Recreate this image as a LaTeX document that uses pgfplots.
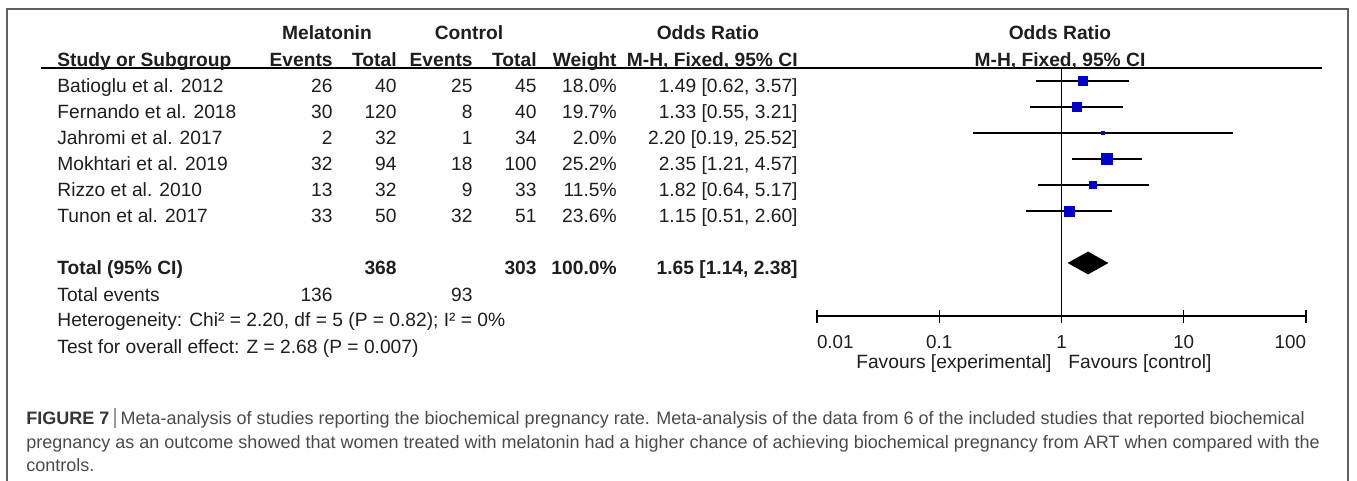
\documentclass[border=0pt]{standalone}
\usepackage{pgfplots}
\pgfplotsset{compat=1.18}
\usepackage{fontspec}
\setmainfont{Liberation Sans}
\definecolor{tx}{HTML}{1E1E1E}
\definecolor{mk}{HTML}{0000C8}
\definecolor{framec}{HTML}{606060}
\definecolor{capc}{HTML}{4A4A4A}
\definecolor{barc}{HTML}{9A9A9A}
\newcommand\tfont{\fontsize{9.6}{11}\selectfont}
\newcommand\row[8]{%
  \node[anchor=base west] at (57,#1) {#2};
  \node[anchor=base east] at (333,#1) {#3};
  \node[anchor=base east] at (397,#1) {#4};
  \node[anchor=base east] at (473,#1) {#5};
  \node[anchor=base east] at (537,#1) {#6};
  \node[anchor=base east] at (617,#1) {#7};
  \node[anchor=base east] at (798,#1) {#8};}
\begin{document}
\begin{tikzpicture}
\useasboundingbox (0,0) rectangle (678.5pt,-240.5pt);
\begin{scope}[x=0.5pt,y=-0.5pt]
\draw[framec, line width=0.6pt] (7,481) -- (7,9) -- (1348,9) -- (1348,481);
\draw[black, line width=0.75pt] (41,68) -- (1322,68);
\begin{scope}[every node/.style={inner sep=0pt, text=tx, font=\tfont}]
% header row 1
\node[anchor=base, font=\tfont\bfseries] at (327,40) {Melatonin};
\node[anchor=base, font=\tfont\bfseries] at (469,40) {Control};
\node[anchor=base, font=\tfont\bfseries] at (708,40) {Odds Ratio};
\node[anchor=base, font=\tfont\bfseries] at (1060,40) {Odds Ratio};
% header row 2
\begin{scope}[every node/.append style={font=\tfont\bfseries}]
\row{67}{Study or Subgroup}{Events}{Total}{Events}{Total}{Weight}{M-H, Fixed, 95\% CI}
\node[anchor=base] at (1060,67) {M-H, Fixed, 95\% CI};
\end{scope}
% studies
\row{93}{Batioglu et al. 2012}{26}{40}{25}{45}{18.0\%}{1.49 [0.62, 3.57]}
\row{119}{Fernando et al. 2018}{30}{120}{8}{40}{19.7\%}{1.33 [0.55, 3.21]}
\row{145}{Jahromi et al. 2017}{2}{32}{1}{34}{2.0\%}{2.20 [0.19, 25.52]}
\row{171}{Mokhtari et al. 2019}{32}{94}{18}{100}{25.2\%}{2.35 [1.21, 4.57]}
\row{197}{Rizzo et al. 2010}{13}{32}{9}{33}{11.5\%}{1.82 [0.64, 5.17]}
\row{223}{Tunon et al. 2017}{33}{50}{32}{51}{23.6\%}{1.15 [0.51, 2.60]}
\begin{scope}[every node/.append style={font=\tfont\bfseries}]
\row{275}{Total (95\% CI)}{}{368}{}{303}{100.0\%}{1.65 [1.14, 2.38]}
\end{scope}
\row{301}{Total events}{136}{}{93}{}{}{}
\node[anchor=base west] at (57,327) {Heterogeneity: Chi² = 2.20, df = 5 (P = 0.82); I² = 0\%};
\node[anchor=base west] at (57,353) {Test for overall effect: Z = 2.68 (P = 0.007)};
% favours
\node[anchor=base east] at (1052,369) {Favours [experimental]};
\node[anchor=base west] at (1068,369) {Favours [control]};
\end{scope}
% caption
\begin{scope}[every node/.style={inner sep=0pt, text=capc, font=\fontsize{9.0}{11}\selectfont}]
\node[anchor=base west] at (26,424) {\textcolor{tx!90}{\textbf{FIGURE 7}}\hspace{0.25em}\textcolor{barc}{\rule[-1.8pt]{1.1pt}{9.6pt}}\hspace{0.25em}Meta-analysis of studies reporting the biochemical pregnancy rate. Meta-analysis of the data from 6 of the included studies that reported biochemical};
\node[anchor=base west] at (26,448) {pregnancy as an outcome showed that women treated with melatonin had a higher chance of achieving biochemical pregnancy from ART when compared with the};
\node[anchor=base west] at (26,472) {controls.};
\end{scope}
\end{scope}
\begin{axis}[
  at={(408.5pt,-158pt)}, anchor=south west,
  scale only axis, width=244.5pt, height=124pt,
  xmode=log, xmin=0.01, xmax=100,
  ymin=0.5, ymax=10.0385, y dir=reverse,
  axis x line=bottom, axis y line=none,
  axis line style={black, line width=0.75pt, -},
  xtick={0.01,0.1,1,10,100}, xminorticks=false,
  xticklabels={\makebox[0pt][l]{0.01},0.1,1,10,\makebox[0pt][r]{100}},
  tick align=center, major tick length=6.5pt,
  tick style={black, line width=0.75pt},
  xticklabel style={anchor=base, yshift=-13pt, inner sep=0pt, font=\fontsize{9.4}{11}\selectfont, text=tx},
  clip=false,
]
\addplot[black, line width=0.75pt] coordinates {(1,0.5) (1,10.0385)};
\addplot[black, line width=0.75pt] coordinates {(0.62,1) (3.57,1)};
\addplot[black, line width=0.75pt] coordinates {(0.55,2) (3.21,2)};
\addplot[black, line width=0.75pt] coordinates {(0.19,3) (25.52,3)};
\addplot[black, line width=0.75pt] coordinates {(1.21,4) (4.57,4)};
\addplot[black, line width=0.75pt] coordinates {(0.64,5) (5.17,5)};
\addplot[black, line width=0.75pt] coordinates {(0.51,6) (2.60,6)};
\addplot[only marks, mark=square*, mk, mark size=2.18pt] coordinates {(1.49,1)};
\addplot[only marks, mark=square*, mk, mark size=2.28pt] coordinates {(1.33,2)};
\addplot[only marks, mark=square*, mk, mark size=0.73pt] coordinates {(2.20,3)};
\addplot[only marks, mark=square*, mk, mark size=2.58pt] coordinates {(2.35,4)};
\addplot[only marks, mark=square*, mk, mark size=1.74pt] coordinates {(1.82,5)};
\addplot[only marks, mark=square*, mk, mark size=2.50pt] coordinates {(1.15,6)};
\addplot[fill=black, draw=black] coordinates {(1.14,8) (1.65,7.58) (2.38,8) (1.65,8.42)} -- cycle;
\end{axis}
\end{tikzpicture}
\end{document}
